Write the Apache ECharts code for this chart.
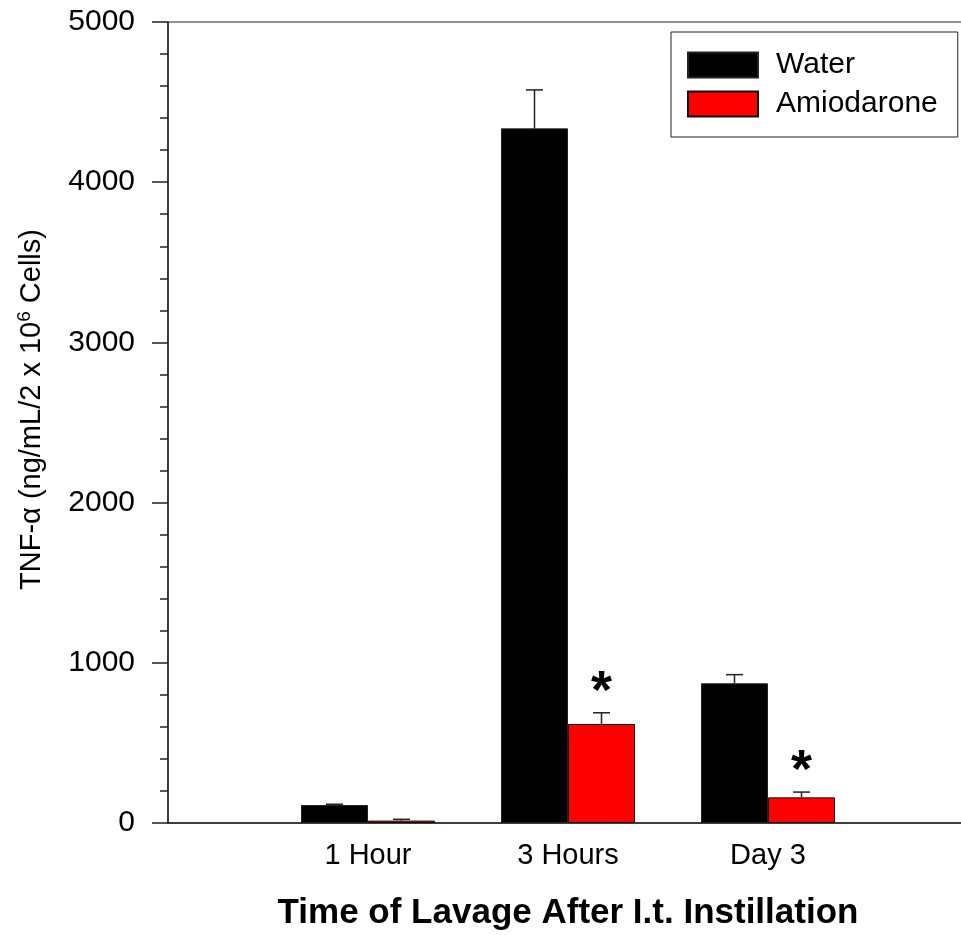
<!DOCTYPE html>
<html>
<head>
<meta charset="utf-8">
<script src="https://cdn.jsdelivr.net/npm/echarts@6/dist/echarts.min.js"></script>
<style>
html,body{margin:0;padding:0;background:#fff;}
#chart{width:961px;height:935px;}
</style>
</head>
<body>
<div id="chart"></div>
<script>
// ---- data ----
const categories = ['1 Hour', '3 Hours', 'Day 3'];
const waterValues = [112, 4336, 872];
const waterErrors = [5, 240, 54];
const amioValues = [15, 618, 160];
const amioErrors = [8, 70, 33];
const amioSignificant = [false, true, true];
const yTicks = [0, 1000, 2000, 3000, 4000, 5000];

// ---- build ----
const FONT = 'Liberation Sans, Arial, sans-serif';
const axisCats = [''].concat(categories, ['']);
const pad = v => [null].concat(v, [null]);
const BAR_FRAC = 0.335;

function errData(values, errors) {
  return values.map((v, i) => [i + 1, v, errors[i]]);
}
function makeErrRender(side) {
  return function (params, api) {
    const x = api.value(0), v = api.value(1), e = api.value(2);
    const band = api.coord([1, 0])[0] - api.coord([0, 0])[0];
    const off = side * band * BAR_FRAC / 2;
    const p0 = api.coord([x, v]);
    const p1 = api.coord([x, v + e]);
    const cx = p0[0] + off;
    const cap = 8.5;
    const st = { stroke: '#222', lineWidth: 1.5 };
    return {
      type: 'group',
      children: [
        { type: 'line', shape: { x1: cx, y1: p0[1], x2: cx, y2: p1[1] }, style: st },
        { type: 'line', shape: { x1: cx - cap, y1: p1[1], x2: cx + cap, y2: p1[1] }, style: st }
      ]
    };
  };
}
const starData = [];
amioSignificant.forEach((s, i) => { if (s) starData.push([i + 1, amioValues[i] + amioErrors[i]]); });

const chart = echarts.init(document.getElementById('chart'), null, { renderer: 'canvas' });
chart.setOption({
  animation: false,
  backgroundColor: '#fff',
  textStyle: { fontFamily: FONT },
  grid: {
    left: 168, top: 22, width: 800, height: 801,
    outerBoundsMode: 'none', containLabel: false,
    show: true, borderColor: '#222', borderWidth: 1, backgroundColor: 'transparent'
  },
  legend: {
    left: 671, top: 32,
    orient: 'vertical',
    padding: [18, 20, 18, 16],
    itemWidth: 70, itemHeight: 25, itemGap: 9,
    icon: 'rect',
    borderColor: '#222', borderWidth: 1, backgroundColor: '#fff',
    textStyle: { fontSize: 30, color: '#000', fontFamily: FONT, padding: [0, 0, 0, 13] },
    data: ['Water', 'Amiodarone']
  },
  xAxis: {
    type: 'category',
    data: axisCats,
    boundaryGap: false,
    axisLine: { lineStyle: { color: '#222', width: 1.5 } },
    axisTick: { show: false },
    axisLabel: { interval: 0, fontSize: 29, color: '#000', margin: 18, fontFamily: FONT },
    name: 'Time of Lavage After I.t. Instillation',
    nameLocation: 'middle',
    nameGap: 73,
    nameTextStyle: { fontSize: 35, fontWeight: 'bold', color: '#000', fontFamily: FONT },
    splitLine: { show: false }
  },
  yAxis: {
    type: 'value',
    min: yTicks[0], max: yTicks[yTicks.length - 1], interval: 1000,
    axisLine: { show: true, lineStyle: { color: '#222', width: 1.5 } },
    axisTick: { show: true, length: 16, lineStyle: { color: '#222', width: 1.5 } },
    minorTick: { show: true, splitNumber: 5, length: 8, lineStyle: { color: '#222', width: 1.5 } },
    axisLabel: { fontSize: 30, color: '#000', margin: 33, fontFamily: FONT, formatter: v => String(v) },
    splitLine: { show: false },
    name: '{a|TNF-α (ng/mL/2 x 10}{s|6}{a| Cells)}',
    nameLocation: 'middle',
    nameRotate: 90,
    nameGap: 120,
    nameTextStyle: {
      padding: [0, 0, 0, 26],
      rich: {
        a: { fontSize: 29, color: '#000', fontFamily: FONT },
        s: { fontSize: 19, color: '#000', fontFamily: FONT, padding: [0, 0, 14, 0] }
      }
    }
  },
  series: [
    {
      name: 'Water', type: 'bar', data: pad(waterValues),
      barWidth: (BAR_FRAC * 100) + '%', barGap: '0%',
      itemStyle: { color: '#000', borderColor: '#222', borderWidth: 1 }
    },
    {
      name: 'Amiodarone', type: 'bar', data: pad(amioValues),
      barWidth: (BAR_FRAC * 100) + '%', barGap: '0%',
      itemStyle: { color: '#ff0000', borderColor: '#111', borderWidth: 1 }
    },
    {
      type: 'custom', renderItem: makeErrRender(-1), data: errData(waterValues, waterErrors),
      encode: { x: 0, y: 1 }, z: 3, silent: true
    },
    {
      type: 'custom', renderItem: makeErrRender(1), data: errData(amioValues, amioErrors),
      encode: { x: 0, y: 1 }, z: 3, silent: true
    },
    {
      type: 'custom', data: starData, encode: { x: 0, y: 1 }, z: 4, silent: true,
      renderItem: function (params, api) {
        const band = api.coord([1, 0])[0] - api.coord([0, 0])[0];
        const p = api.coord([api.value(0), api.value(1)]);
        return {
          type: 'text',
          style: {
            x: p[0] + band * BAR_FRAC / 2, y: p[1] - 20,
            text: '*', fontSize: 54, fontWeight: 'bold', fill: '#000',
            fontFamily: FONT, align: 'center', verticalAlign: 'middle'
          }
        };
      }
    }
  ]
});
</script>
</body>
</html>
